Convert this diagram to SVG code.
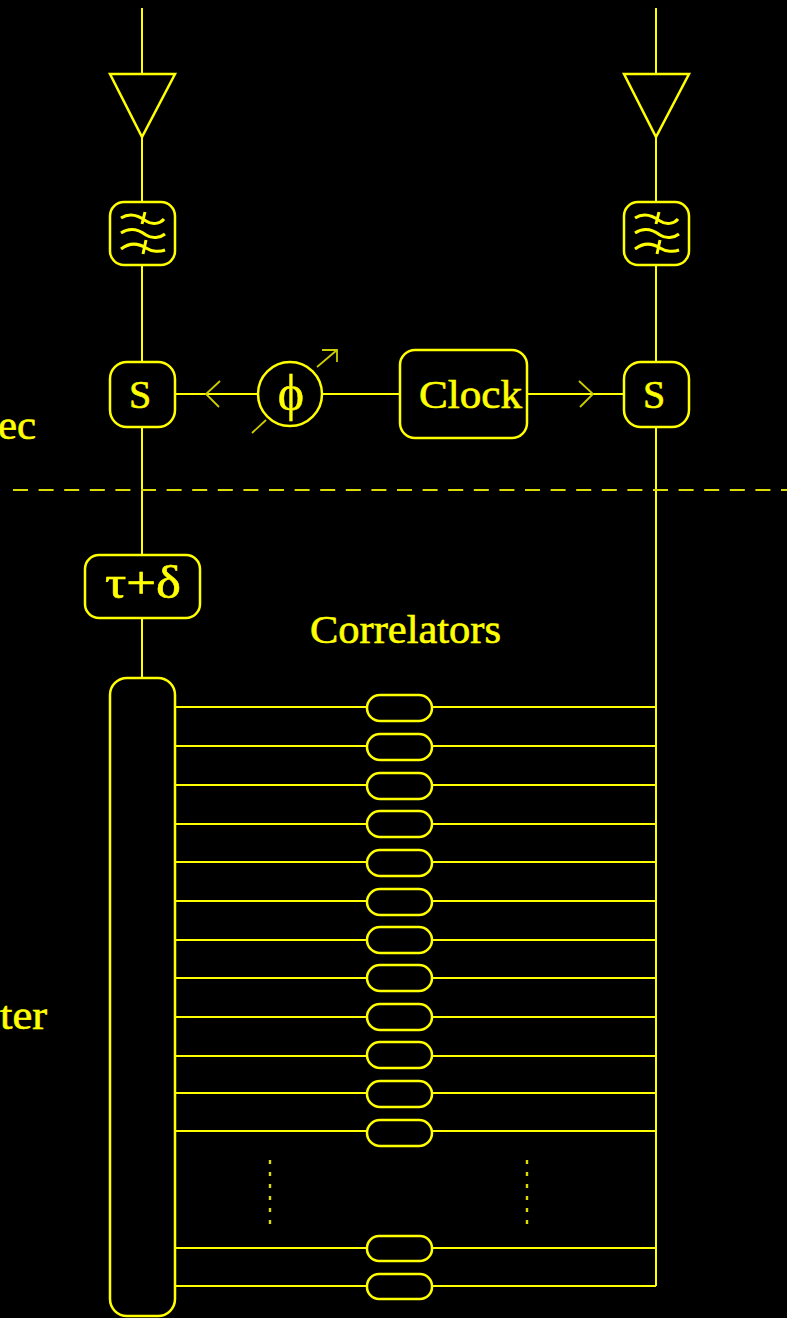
<svg xmlns="http://www.w3.org/2000/svg" width="787" height="1318" viewBox="0 0 787 1318">
<style>
.s{fill:none;stroke:#ff0;stroke-width:2}
.b{fill:#000;stroke:#ff0;stroke-width:2.5}
.f{fill:none;stroke:#ff0;stroke-width:3}
.t{fill:#ff0;stroke:#ff0;stroke-width:.6;font-family:"Liberation Serif","DejaVu Serif",serif;font-size:40px}
.a{fill:none;stroke:#cc0;stroke-width:1.8}
.d{fill:none;stroke:#dd0;stroke-width:2.4;stroke-dasharray:4 8}
</style>
<rect width="787" height="1318" fill="#000"/>
<g id="connectors">
<path class="s" d="M142 8V74M142 137V202M142 265V362M142 427V555M142 618V678M656 8V74M656 137V202M656 265V362M656 427V707V1286"/>
<path class="s" d="M175 394H258M323 394H400M527 394H623"/>
<path class="a" d="M220 381L206 394L219 407M579 381L593 394L580 407"/>
<path class="s" d="M175 707H656M175 746H656M175 785H656M175 824H656M175 862H656M175 901H656M175 940H656M175 978H656M175 1017H656M175 1056H656M175 1093H656M175 1131H656M175 1248H656M175 1286H656"/>
<path d="M13 490H787" fill="none" stroke="#dd0" stroke-width="2.2" stroke-dasharray="15 10.6"/>
<path class="d" d="M270 1160V1224M527 1160V1224"/>
</g>
<g id="amp-left"><path class="b" d="M110 74H175L142 137Z"/></g>
<g id="amp-right"><path class="b" d="M624 74H689L656 137Z"/></g>
<g id="filter-left">
<rect class="b" x="110" y="202" width="65" height="63" rx="14"/>
<path class="f" d="M121 218C130 212 138 215 146 221C152 225 160 224 164 219M121 233C130 227 138 229 146 235C152 239 160 238 165 234M121 249C130 242 138 243 146 248C152 252 160 252 165 250M145 212L142 224M146 240L143 254"/>
</g>
<g id="filter-right">
<rect class="b" x="624" y="202" width="65" height="63" rx="14"/>
<path class="f" d="M635 218C644 212 652 215 660 221C666 225 674 224 678 219M635 233C644 227 652 229 660 235C666 239 674 238 679 234M635 249C644 242 652 243 660 248C666 252 674 252 679 250M659 212L656 224M660 240L657 254"/>
</g>
<g id="sampler-left"><rect class="b" x="110" y="362" width="65" height="65" rx="17"/><text class="t" x="140" y="408" text-anchor="middle">S</text></g>
<g id="sampler-right"><rect class="b" x="624" y="362" width="65" height="65" rx="17"/><text class="t" x="654" y="408" text-anchor="middle">S</text></g>
<g id="phase">
<circle class="b" cx="290" cy="394" r="32"/>
<text class="t" x="291" y="410" text-anchor="middle" style="font-size:50px;stroke-width:.4">ϕ</text>
<path class="a" d="M252 433L266 420M317 367L337 350M322 350H337V362"/>
</g>
<g id="clock"><rect class="b" x="400" y="350" width="127" height="88" rx="15"/><text class="t" x="419" y="408" textLength="103" lengthAdjust="spacingAndGlyphs">Clock</text></g>
<g id="delay"><rect class="b" x="85" y="555" width="115" height="63" rx="14"/><text class="t" x="105" y="598" textLength="76" lengthAdjust="spacingAndGlyphs" style="font-size:46px">τ+δ</text></g>
<g id="bank"><rect class="b" x="110" y="678" width="65" height="638" rx="17"/></g>
<g id="label-correlators"><text class="t" x="310" y="643" textLength="191" lengthAdjust="spacingAndGlyphs">Correlators</text></g>
<g id="label-ec"><text class="t" x="-2" y="439" textLength="38" lengthAdjust="spacingAndGlyphs">ec</text></g>
<g id="label-ter"><text class="t" x="0" y="1029" textLength="47" lengthAdjust="spacingAndGlyphs">ter</text></g>
<g id="correlators">
<rect class="b" x="367" y="695" width="65" height="26" rx="13"/>
<rect class="b" x="367" y="734" width="65" height="26" rx="13"/>
<rect class="b" x="367" y="773" width="65" height="26" rx="13"/>
<rect class="b" x="367" y="811" width="65" height="26" rx="13"/>
<rect class="b" x="367" y="850" width="65" height="26" rx="13"/>
<rect class="b" x="367" y="889" width="65" height="26" rx="13"/>
<rect class="b" x="367" y="927" width="65" height="26" rx="13"/>
<rect class="b" x="367" y="965" width="65" height="26" rx="13"/>
<rect class="b" x="367" y="1004" width="65" height="26" rx="13"/>
<rect class="b" x="367" y="1042" width="65" height="26" rx="13"/>
<rect class="b" x="367" y="1081" width="65" height="26" rx="13"/>
<rect class="b" x="367" y="1120" width="65" height="26" rx="13"/>
<rect class="b" x="367" y="1236" width="65" height="25" rx="12"/>
<rect class="b" x="367" y="1274" width="65" height="25" rx="12"/>
</g>
</svg>
